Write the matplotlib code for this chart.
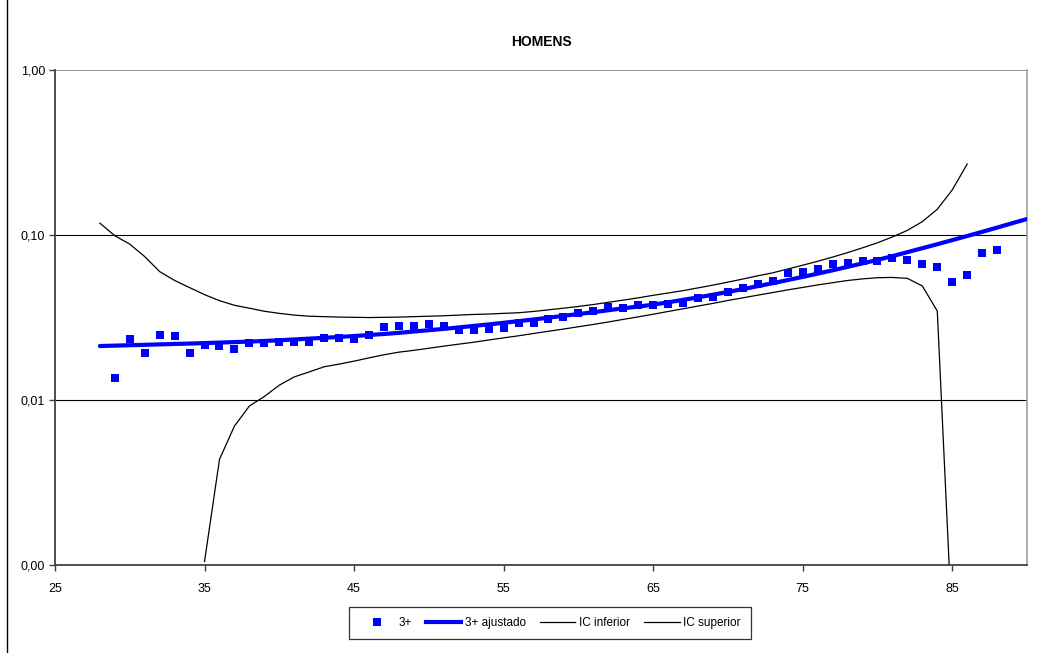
import matplotlib
matplotlib.use("Agg")
import matplotlib.pyplot as plt
from matplotlib.lines import Line2D
from matplotlib.ticker import FixedLocator, NullLocator

plt.rcParams['font.family'] = ['Liberation Sans', 'DejaVu Sans']

# observed rates, ages 29-88
ages_obs = list(range(29, 89))
rate_obs = [0.0136, 0.0233, 0.0193, 0.0248, 0.0244, 0.0193, 0.0216, 0.0213, 0.0204, 0.0222,
            0.0223, 0.0225, 0.0225, 0.0225, 0.0238, 0.0236, 0.0234, 0.0248, 0.0277, 0.0281,
            0.0281, 0.0287, 0.0279, 0.0266, 0.0266, 0.0269, 0.0273, 0.0293, 0.0293, 0.0310,
            0.0318, 0.0337, 0.0346, 0.0366, 0.0361, 0.0377, 0.0377, 0.0382, 0.0387, 0.0418,
            0.0423, 0.0453, 0.0479, 0.0507, 0.0526, 0.0588, 0.0597, 0.0622, 0.0667, 0.0680,
            0.0696, 0.0699, 0.0726, 0.0705, 0.0667, 0.0643, 0.0519, 0.0573, 0.0781, 0.0811]

# fitted rates, ages 28-90
ages_fit = list(range(28, 91))
rate_fit = [0.02123, 0.02136, 0.02148, 0.02160, 0.02173, 0.02186, 0.02198, 0.02213, 0.02228, 0.02244,
            0.02259, 0.02280, 0.02301, 0.02328, 0.02355, 0.02382, 0.02410, 0.02443, 0.02477, 0.02512,
            0.02553, 0.02600, 0.02649, 0.02698, 0.02754, 0.02812, 0.02871, 0.02938, 0.03006, 0.03076,
            0.03155, 0.03236, 0.03319, 0.03404, 0.03499, 0.03597, 0.03681, 0.03784, 0.03908, 0.04046,
            0.04188, 0.04345, 0.04519, 0.04699, 0.04898, 0.05105, 0.05333, 0.05572, 0.05834, 0.06109,
            0.06412, 0.06730, 0.07063, 0.07447, 0.07870, 0.08318, 0.08790, 0.09311, 0.09863, 0.1045,
            0.1109, 0.1178, 0.1250]

# lower confidence bound, ages 35-85
ages_low = list(range(35, 86))
ic_low = [0.00105, 0.00437, 0.00695, 0.0092, 0.0105, 0.0123, 0.0138, 0.0148, 0.0159, 0.0165,
          0.0172, 0.0180, 0.0188, 0.0195, 0.0200, 0.0206, 0.0212, 0.0218, 0.0224, 0.0231,
          0.0238, 0.0245, 0.0253, 0.0261, 0.0269, 0.0278, 0.0287, 0.0297, 0.0308, 0.0319,
          0.0331, 0.0344, 0.0357, 0.0371, 0.0385, 0.0401, 0.0416, 0.0432, 0.0448, 0.0465,
          0.0481, 0.0498, 0.0514, 0.0530, 0.0542, 0.0551, 0.0553, 0.0546, 0.0491, 0.0346,
          0.0004]

# upper confidence bound, ages 28-86
ages_up = list(range(28, 87))
ic_up = [0.118, 0.099, 0.088, 0.074, 0.060, 0.053, 0.048, 0.0435, 0.0400, 0.0375,
         0.0360, 0.0345, 0.0335, 0.0327, 0.0322, 0.0320, 0.0318, 0.0317, 0.0316, 0.0317,
         0.0318, 0.0320, 0.0322, 0.0324, 0.0327, 0.0330, 0.0332, 0.0335, 0.0338, 0.0344,
         0.0352, 0.0360, 0.0369, 0.0379, 0.0391, 0.0403, 0.0416, 0.0431, 0.0445, 0.0460,
         0.0478, 0.0497, 0.0518, 0.0541, 0.0566, 0.0590, 0.0622, 0.0656, 0.0693, 0.0735,
         0.0782, 0.0836, 0.0897, 0.0973, 0.1067, 0.1205, 0.1432, 0.1875, 0.2692]

x_ticks = [25, 35, 45, 55, 65, 75, 85]
y_ticks = [0.001, 0.01, 0.1, 1.0]
y_tick_labels = ["0,00", "0,01", "0,10", "1,00"]
series_names = ["3+", "3+ ajustado", "IC inferior", "IC superior"]

fig = plt.figure(figsize=(10.42, 6.53), dpi=100)
ax = fig.add_axes([55 / 1042, 1 - 565 / 653, (1027 - 55) / 1042, (565 - 70) / 653])

blue = "#0000FF"
ax.plot(ages_obs, rate_obs, linestyle="none", marker="s", markersize=6.3,
        color=blue, markeredgewidth=0, zorder=4)
ax.plot(ages_fit, rate_fit, color=blue, linewidth=3.0, solid_capstyle="round", zorder=3)
ax.plot(ages_low, ic_low, color="black", linewidth=0.9, zorder=2)
ax.plot(ages_up, ic_up, color="black", linewidth=0.9, zorder=2)

ax.set_yscale("log")
ax.set_xlim(25, 90)
ax.set_ylim(0.001, 1.0)
ax.yaxis.set_major_locator(FixedLocator(y_ticks))
ax.yaxis.set_minor_locator(NullLocator())
ax.set_yticklabels(y_tick_labels)
ax.xaxis.set_major_locator(FixedLocator(x_ticks))
ax.xaxis.set_minor_locator(NullLocator())

for gy in y_ticks[1:3]:
    ax.axhline(gy, color="black", linewidth=0.8, zorder=1)
ax.axhline(1.0, color="#808080", linewidth=1.2, zorder=1)

ax.tick_params(axis="both", which="major", direction="out", length=4, width=1,
               color="#404040", labelsize=9, pad=3)
ax.tick_params(axis="x", pad=9)
for side in ("left", "bottom"):
    ax.spines[side].set_color("#404040")
    ax.spines[side].set_linewidth(1.3)
ax.spines["top"].set_visible(False)
ax.spines["right"].set_color("#A0A0A0")
ax.spines["right"].set_linewidth(1.2)

fig.text(541 / 1042, 1 - 42 / 653, "HOMENS", ha="center", va="center",
         fontsize=10, fontweight="bold")

handles = [
    Line2D([], [], linestyle="none", marker="s", markersize=6.3, color=blue, markeredgewidth=0),
    Line2D([], [], color=blue, linewidth=3.0),
    Line2D([], [], color="black", linewidth=0.9),
    Line2D([], [], color="black", linewidth=0.9),
]
leg = fig.legend(handles, series_names, loc="center", ncol=4,
                 bbox_to_anchor=(550 / 1042, 1 - 623 / 653), frameon=True,
                 fancybox=False, fontsize=8.5, handlelength=3.0, handletextpad=0.3,
                 columnspacing=1.2, borderpad=0.85)
leg.get_frame().set_edgecolor("black")
leg.get_frame().set_linewidth(0.9)

# chart area border on the left
fig.add_artist(Line2D([7 / 1042, 7 / 1042], [0, 1], transform=fig.transFigure,
                      color="black", linewidth=1.0))

fig.savefig("out.png", dpi=100)
